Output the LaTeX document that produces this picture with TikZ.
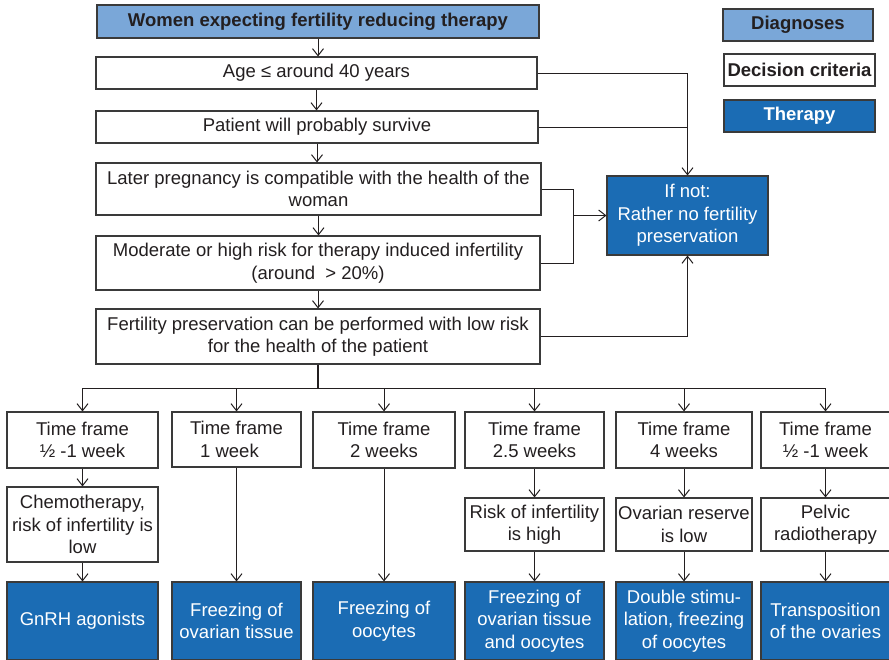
\documentclass[tikz,border=0pt]{standalone}
\usepackage{fontspec}
\setmainfont{Liberation Sans}
\usetikzlibrary{arrows.meta}
\definecolor{ink}{HTML}{231F20}
\definecolor{edge}{HTML}{3A3A3A}
\definecolor{diagblue}{HTML}{7AA7D8}
\definecolor{therblue}{HTML}{1B6CB4}
\tikzset{
  box/.style={draw=edge, line width=1.1pt, inner sep=0pt, align=center, text=ink,
    font=\fontsize{18.5}{22.5}\selectfont},
  diagbox/.style={box, fill=diagblue, font=\fontsize{18.5}{22.5}\selectfont\bfseries},
  critbox/.style={box, fill=white},
  therbox/.style={box, fill=therblue, text=white},
  conn/.style={draw=ink, line width=1pt},
  arr/.style={conn, -{Straight Barb[length=7pt,width=11pt,line width=1pt]}},
  bus/.style={draw=ink, line width=1.8pt}
}
\begin{document}
\begin{tikzpicture}[x=1pt,y=-1pt]
\useasboundingbox (0,0) rectangle (889,659);
\clip (0,0) rectangle (889,659);
\fill[white] (0,0) rectangle (889,659);

% main decision chain
\node[diagbox, minimum width=442pt, minimum height=33pt] (diag) at (318,21.5) {Women expecting fertility reducing therapy};
\node[critbox, minimum width=441pt, minimum height=32pt] (age) at (316.5,73) {Age ≤ around 40 years};
\node[critbox, minimum width=442pt, minimum height=32pt] (surv) at (317,127) {Patient will probably survive};
\node[critbox, minimum width=445pt, minimum height=52pt] (preg) at (318.5,189) {Later pregnancy is compatible with the health of the\\woman};
\node[critbox, minimum width=444pt, minimum height=54pt] (risk) at (318,263) {Moderate or high risk for therapy induced infertility\\(around \ > 20\%)};
\node[critbox, minimum width=444pt, minimum height=55pt] (safe) at (318,336.5) {Fertility preservation can be performed with low risk\\for the health of the patient};
\node[therbox, minimum width=161pt, minimum height=79pt] (ifnot) at (687.5,215.5) {If not:\\Rather no fertility\\preservation};

% legend
\node[diagbox, minimum width=150pt, minimum height=32pt] (lgdiag) at (798,25) {Diagnoses};
\node[critbox, font=\fontsize{18.5}{22.5}\selectfont\bfseries, minimum width=151pt, minimum height=32pt] (lgcrit) at (799.5,70) {Decision criteria};
\node[therbox, font=\fontsize{18.5}{22.5}\selectfont\bfseries, minimum width=151pt, minimum height=32pt] (lgther) at (799.5,116) {Therapy};

% time frame row
\node[critbox, minimum width=151pt, minimum height=56pt] (t1) at (82.5,440) {Time frame\\½ -1 week};
\node[critbox, minimum width=129pt, minimum height=55pt] (t2) at (236.5,439.5) {Time frame\\1 week\hspace*{14pt}};
\node[critbox, minimum width=142pt, minimum height=56pt] (t3) at (384,440) {Time frame\\2 weeks};
\node[critbox, minimum width=139pt, minimum height=56pt] (t4) at (534.5,440) {Time frame\\2.5 weeks};
\node[critbox, minimum width=136pt, minimum height=56pt] (t5) at (684,440) {Time frame\\4 weeks};
\node[critbox, minimum width=129pt, minimum height=56pt] (t6) at (825.5,440) {Time frame\\½ -1 week};

% criteria row
\node[critbox, minimum width=151pt, minimum height=75pt] (k1) at (82.5,524.5) {Chemotherapy,\\risk of infertility is\\low};
\node[critbox, minimum width=139pt, minimum height=53pt] (k4) at (534.5,524.5) {Risk of infertility\\is high};
\node[critbox, minimum width=136pt, minimum height=53pt] (k5) at (684,524.5) {Ovarian reserve\\is low};
\node[critbox, minimum width=129pt, minimum height=53pt] (k6) at (825.5,524.5) {Pelvic\\radiotherapy};

% therapy row
\node[therbox, minimum width=151pt, minimum height=78pt] (r1) at (82.5,621) {GnRH agonists};
\node[therbox, minimum width=129pt, minimum height=78pt] (r2) at (236.5,621) {Freezing of\\ovarian tissue};
\node[therbox, minimum width=142pt, minimum height=78pt] (r3) at (384,621) {Freezing of\\oocytes};
\node[therbox, minimum width=139pt, minimum height=78pt] (r4) at (534.5,621) {Freezing of\\ovarian tissue\\and oocytes};
\node[therbox, minimum width=136pt, minimum height=78pt] (r5) at (684,621) {Double stimu-\\lation, freezing\\of oocytes};
\node[therbox, minimum width=129pt, minimum height=78pt] (r6) at (825.5,621) {Transposition\\of the ovaries};

% chain arrows
\draw[arr] (diag.south) -- (diag.south |- age.north);
\draw[arr] (age.south) -- (age.south |- surv.north);
\draw[arr] (surv.south) -- (surv.south |- preg.north);
\draw[arr] (preg.south) -- (preg.south |- risk.north);
\draw[arr] (risk.south) -- (risk.south |- safe.north);

% "if not" branches
\draw[arr] (age.east) -| (ifnot.north);
\draw[conn] (surv.east) -- (surv.east -| ifnot.north);
\coordinate (join) at (573,215.5);
\draw[conn] (preg.east) -| (join);
\draw[conn] (risk.east) -| (join);
\draw[arr] (join) -- (ifnot.west);
\draw[arr] (safe.east) -| (ifnot.south);

% distribution bus
\coordinate (split) at (318,388);
\coordinate (busL) at (82.5,388);
\coordinate (busR) at (825.5,388);
\draw[bus] (safe.south) -- (split);
\draw[conn] (busL) -- (busR);
\foreach \t in {t1,t2,t3,t4,t5,t6}
  \draw[arr] (\t.north |- split) -- (\t.north);

% column arrows
\draw[arr] (t1.south) -- (k1.north);
\draw[arr] (k1.south) -- (r1.north);
\draw[arr] (t2.south) -- (r2.north);
\draw[arr] (t3.south) -- (r3.north);
\draw[arr] (t4.south) -- (k4.north);
\draw[arr] (k4.south) -- (r4.north);
\draw[arr] (t5.south) -- (k5.north);
\draw[arr] (k5.south) -- (r5.north);
\draw[arr] (t6.south) -- (k6.north);
\draw[arr] (k6.south) -- (r6.north);
\end{tikzpicture}
\end{document}
